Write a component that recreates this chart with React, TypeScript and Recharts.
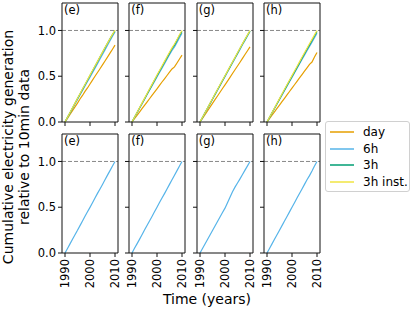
import React from "react";
import { LineChart, Line, XAxis, YAxis, ReferenceLine } from "recharts";

const YEARS = [1990, 1991, 1992, 1993, 1994, 1995, 1996, 1997, 1998, 1999, 2000, 2001, 2002, 2003, 2004, 2005, 2006, 2007, 2008, 2009, 2010];
const X_TICKS = [1990, 2000, 2010];
const Y_TICKS = [0, 0.5, 1.0];
const PANEL_LABELS = ["(e)", "(f)", "(g)", "(h)"];
const SERIES_NAMES = ["day", "6h", "3h", "3h inst."];
const SERIES_COLORS = ["#E69F00", "#56B4E9", "#009E73", "#F0E442"];

// top row (e)-(h)
const topE_day = [0, 0.04, 0.083, 0.124, 0.166, 0.207, 0.251, 0.29, 0.334, 0.372, 0.415, 0.457, 0.5, 0.541, 0.582, 0.624, 0.666, 0.708, 0.752, 0.795, 0.84];
const topE_6h = [0, 0.049, 0.098, 0.147, 0.196, 0.246, 0.295, 0.344, 0.393, 0.442, 0.49, 0.539, 0.588, 0.638, 0.688, 0.737, 0.788, 0.838, 0.887, 0.936, 0.985];
const topE_3h = [0, 0.051, 0.102, 0.153, 0.204, 0.255, 0.306, 0.356, 0.407, 0.457, 0.508, 0.558, 0.608, 0.659, 0.71, 0.76, 0.81, 0.86, 0.908, 0.954, 0.998];
const topE_inst = [0, 0.052, 0.103, 0.155, 0.206, 0.257, 0.309, 0.36, 0.41, 0.461, 0.512, 0.562, 0.612, 0.662, 0.713, 0.763, 0.813, 0.862, 0.91, 0.957, 1.003];

const topF_day = [0, 0.036, 0.072, 0.108, 0.145, 0.181, 0.218, 0.254, 0.29, 0.327, 0.363, 0.4, 0.437, 0.472, 0.508, 0.545, 0.58, 0.602, 0.645, 0.688, 0.73];
const topF_6h = [0, 0.05, 0.1, 0.148, 0.198, 0.247, 0.297, 0.346, 0.394, 0.444, 0.492, 0.54, 0.588, 0.637, 0.686, 0.735, 0.782, 0.82, 0.87, 0.92, 0.97];
const topF_3h = [0, 0.051, 0.102, 0.152, 0.203, 0.253, 0.304, 0.354, 0.404, 0.455, 0.505, 0.554, 0.603, 0.653, 0.702, 0.752, 0.8, 0.84, 0.892, 0.944, 0.99];
const topF_inst = [0, 0.052, 0.104, 0.155, 0.206, 0.258, 0.309, 0.36, 0.411, 0.462, 0.513, 0.563, 0.612, 0.662, 0.712, 0.762, 0.81, 0.852, 0.902, 0.953, 1.0];

const topG_day = [0, 0.04, 0.081, 0.121, 0.162, 0.203, 0.244, 0.284, 0.325, 0.366, 0.406, 0.447, 0.488, 0.53, 0.571, 0.612, 0.653, 0.695, 0.737, 0.778, 0.82];
const topG_6h = [0, 0.05, 0.1, 0.149, 0.199, 0.248, 0.298, 0.348, 0.397, 0.447, 0.496, 0.546, 0.595, 0.645, 0.694, 0.744, 0.793, 0.843, 0.892, 0.94, 0.988];
const topG_3h = [0, 0.05, 0.101, 0.151, 0.201, 0.251, 0.302, 0.352, 0.402, 0.452, 0.502, 0.552, 0.602, 0.652, 0.702, 0.752, 0.802, 0.852, 0.9, 0.948, 0.995];
const topG_inst = [0, 0.051, 0.102, 0.153, 0.204, 0.254, 0.305, 0.355, 0.406, 0.456, 0.506, 0.556, 0.606, 0.656, 0.706, 0.756, 0.806, 0.856, 0.904, 0.952, 0.998];

const topH_day = [0, 0.037, 0.074, 0.111, 0.148, 0.185, 0.222, 0.259, 0.296, 0.333, 0.37, 0.407, 0.444, 0.481, 0.518, 0.555, 0.592, 0.63, 0.655, 0.71, 0.76];
const topH_6h = [0, 0.049, 0.098, 0.147, 0.196, 0.245, 0.294, 0.343, 0.392, 0.44, 0.488, 0.536, 0.584, 0.633, 0.682, 0.73, 0.778, 0.826, 0.872, 0.92, 0.97];
const topH_3h = [0, 0.05, 0.1, 0.15, 0.2, 0.25, 0.3, 0.35, 0.4, 0.449, 0.498, 0.547, 0.596, 0.646, 0.696, 0.745, 0.794, 0.843, 0.89, 0.94, 0.99];
const topH_inst = [0, 0.051, 0.102, 0.153, 0.204, 0.255, 0.306, 0.357, 0.407, 0.457, 0.507, 0.557, 0.607, 0.657, 0.707, 0.757, 0.806, 0.855, 0.903, 0.952, 1.0];

// bottom row (e)-(h), 6h
const botE_6h = [0, 0.049, 0.1, 0.151, 0.2, 0.248, 0.299, 0.35, 0.401, 0.45, 0.498, 0.548, 0.6, 0.651, 0.7, 0.749, 0.8, 0.851, 0.9, 0.95, 1.0];
const botF_6h = [0, 0.051, 0.1, 0.149, 0.2, 0.251, 0.3, 0.349, 0.399, 0.45, 0.5, 0.551, 0.6, 0.649, 0.699, 0.75, 0.8, 0.85, 0.9, 0.951, 1.0];
const botG_6h = [0, 0.05, 0.099, 0.148, 0.197, 0.246, 0.295, 0.344, 0.393, 0.442, 0.49, 0.55, 0.61, 0.67, 0.72, 0.765, 0.81, 0.857, 0.905, 0.952, 1.0];
const botH_6h = [0, 0.05, 0.1, 0.15, 0.199, 0.249, 0.299, 0.349, 0.399, 0.449, 0.499, 0.549, 0.6, 0.65, 0.7, 0.75, 0.8, 0.845, 0.895, 0.95, 1.0];

const TOP_ROW = [
  [topE_day, topE_6h, topE_3h, topE_inst],
  [topF_day, topF_6h, topF_3h, topF_inst],
  [topG_day, topG_6h, topG_3h, topG_inst],
  [topH_day, topH_6h, topH_3h, topH_inst],
];
const BOTTOM_ROW = [[null, botE_6h, null, null], [null, botF_6h, null, null], [null, botG_6h, null, null], [null, botH_6h, null, null]];

const FONT = "'DejaVu Sans', sans-serif";
const COL_LEFT = [62, 129.33, 196.67, 264];
const ROW_TOP = [3, 134];
const PW = 56;
const PH = 119;
const X_DOMAIN: [number, number] = [1988.8, 2011.2];
const Y_DOMAIN: [number, number] = [0, 1.3];
const AXIS = "#111";
const TICK_FS = 11.5;

const Empty = () => <g />;

const RotTick = (props: any) => {
  const { x, y, payload } = props;
  return (
    <text x={x} y={y} transform={`rotate(-90, ${x}, ${y})`} textAnchor="end" dy="0.36em" fontSize={TICK_FS} fontFamily={FONT} fill="#000">
      {payload.value}
    </text>
  );
};

function Panel({ left, top, label, values, showY, showX }: any) {
  const data = YEARS.map((yr, i) => {
    const o: any = { year: yr };
    values.forEach((arr: number[] | null, k: number) => {
      if (arr) o["s" + k] = arr[i];
    });
    return o;
  });
  return (
    <div style={{ position: "absolute", left: left - 40, top: top - 5 }}>
      <LineChart width={40 + PW + 5} height={5 + PH + 40} data={data} margin={{ top: 5, right: 5, bottom: 0, left: 0 }}>
        <XAxis
          dataKey="year"
          type="number"
          domain={X_DOMAIN}
          ticks={X_TICKS}
          interval={0}
          height={40}
          tickSize={4}
          stroke={AXIS}
          allowDataOverflow
          tick={showX ? RotTick : Empty}
        />
        <YAxis
          type="number"
          domain={Y_DOMAIN}
          ticks={Y_TICKS}
          interval={0}
          width={40}
          tickSize={4}
          stroke={AXIS}
          allowDataOverflow
          tickFormatter={(v: number) => v.toFixed(1)}
          tick={showY ? { fontSize: TICK_FS, fontFamily: FONT, fill: "#000" } : Empty}
        />
        <ReferenceLine y={1} stroke="#888" strokeDasharray="4 2" strokeWidth={1} />
        {values.map((arr: number[] | null, k: number) =>
          arr ? (
            <Line
              key={k}
              dataKey={"s" + k}
              name={SERIES_NAMES[k]}
              stroke={SERIES_COLORS[k]}
              strokeWidth={1.2}
              dot={false}
              isAnimationActive={false}
              type="linear"
            />
          ) : null
        )}
        <ReferenceLine y={Y_DOMAIN[1]} stroke={AXIS} strokeWidth={1} />
        <ReferenceLine x={X_DOMAIN[1]} stroke={AXIS} strokeWidth={1} />
      </LineChart>
      <div style={{ position: "absolute", left: 42, top: 6, fontFamily: FONT, fontSize: 11.5, lineHeight: "12px", color: "#000" }}>{label}</div>
    </div>
  );
}

export default function App() {
  return (
    <div style={{ position: "absolute", left: 0, top: 0, width: 415, height: 312, background: "#fff", overflow: "hidden" }}>
      {TOP_ROW.map((vals, c) => (
        <Panel key={"t" + c} left={COL_LEFT[c]} top={ROW_TOP[0]} label={PANEL_LABELS[c]} values={vals} showY={c === 0} showX={false} />
      ))}
      {BOTTOM_ROW.map((vals, c) => (
        <Panel key={"b" + c} left={COL_LEFT[c]} top={ROW_TOP[1]} label={PANEL_LABELS[c]} values={vals} showY={c === 0} showX={true} />
      ))}
      <svg width={415} height={312} style={{ position: "absolute", left: 0, top: 0, pointerEvents: "none" }}>
        <text x={207} y={304} textAnchor="middle" fontFamily={FONT} fontSize={14} fill="#000">
          Time (years)
        </text>
        <g transform="rotate(-90, 0, 0)">
          <text x={-147} y={13} textAnchor="middle" fontFamily={FONT} fontSize={14} fill="#000">
            Cumulative electricity generation
          </text>
          <text x={-147} y={29} textAnchor="middle" fontFamily={FONT} fontSize={14} fill="#000">
            relative to 10min data
          </text>
        </g>
      </svg>
      <div
        style={{
          position: "absolute",
          left: 325,
          top: 121,
          width: 83,
          height: 69,
          border: "1px solid #d0d0d0",
          borderRadius: 3,
          background: "#fff",
          fontFamily: FONT,
          fontSize: 12,
        }}
      >
        {SERIES_NAMES.map((n, i) => (
          <div key={n} style={{ position: "absolute", left: 3, top: 2 + i * 16.5, height: 16, display: "flex", alignItems: "center" }}>
            <svg width={26} height={4} style={{ display: "block" }}>
              <line x1={1} y1={2} x2={25} y2={2} stroke={SERIES_COLORS[i]} strokeWidth={1.5} />
            </svg>
            <span style={{ marginLeft: 8, whiteSpace: "nowrap" }}>{n}</span>
          </div>
        ))}
      </div>
    </div>
  );
}
